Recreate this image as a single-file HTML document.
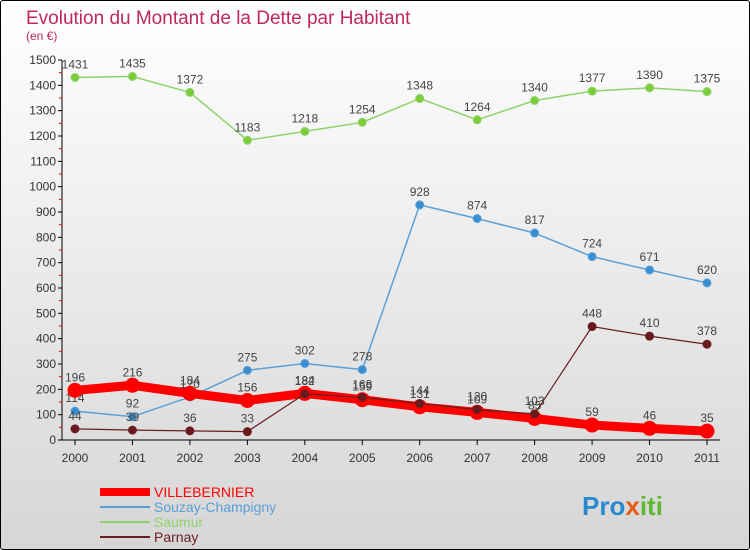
<!DOCTYPE html>
<html><head><meta charset="utf-8"><style>
body{margin:0;width:750px;height:550px;overflow:hidden;font-family:"Liberation Sans",sans-serif}
#c{position:absolute;left:0;top:0;width:748px;height:548px;border:1px solid #000;border-radius:3px;background:linear-gradient(#fff,#d6d6d6)}
</style></head><body>
<div id="c">
<svg id="s" width="750" height="550" style="position:absolute;left:-1px;top:-1px">
<text x="26" y="24" font-size="19" fill="#c0285a">Evolution du Montant de la Dette par Habitant</text>
<text x="26" y="40" font-size="12" fill="#c0285a">(en €)</text>
</svg>
</div>
<script>
const years=[2000,2001,2002,2003,2004,2005,2006,2007,2008,2009,2010,2011];
const villebernier=[196,216,184,156,184,159,131,109,85,59,46,35];
const souzay=[114,92,170,275,302,278,928,874,817,724,671,620];
const saumur=[1431,1435,1372,1183,1218,1254,1348,1264,1340,1377,1390,1375];
const parnay=[44,39,36,33,182,168,144,120,103,448,410,378];
const yTicks=[0,100,200,300,400,500,600,700,800,900,1000,1100,1200,1300,1400,1500];
const NS='http://www.w3.org/2000/svg',svg=document.getElementById('s');
const X=i=>75+i*(707-75)/11, Y=v=>440-v*380/1500;
function mk(t,a,p){const e=document.createElementNS(NS,t);for(const k in a)e.setAttribute(k,a[k]);(p||svg).appendChild(e);return e;}
let ax=mk('line',{x1:62,y1:60,x2:62,y2:440,stroke:'#000'});

let bx=mk('line',{x1:62,y1:440,x2:720,y2:440,stroke:'#000'});

yTicks.forEach(v=>{mk('line',{x1:58,x2:62,y1:Y(v),y2:Y(v),stroke:'#000'});
 if(v<1500)mk('line',{x1:59,x2:62,y1:Y(v+50),y2:Y(v+50),stroke:'#e00'});
 const t=mk('text',{x:56,y:Y(v)+4,'text-anchor':'end','font-size':12,fill:'#333'});t.textContent=v;
 });
years.forEach((y,i)=>{mk('line',{x1:X(i),x2:X(i),y1:440,y2:445,stroke:'#000'});
 const t=mk('text',{x:X(i),y:462,'text-anchor':'middle','font-size':12,fill:'#333'});t.textContent=y;
 });
function series(name,data,color,w,r,dot){
 const g=mk('g',{});
 mk('polyline',{points:data.map((v,i)=>X(i)+','+Y(v)).join(' '),fill:'none',stroke:color,'stroke-width':w,'stroke-linejoin':'round'},g);
 data.forEach((v,i)=>{const c=mk('circle',{cx:X(i),cy:Y(v),r:r,fill:dot,stroke:color,'stroke-width':1},g);
  
  const t=mk('text',{x:X(i),y:Y(v)-9,'text-anchor':'middle','font-size':12,fill:'#444'},g);t.textContent=v;
  });
}
series('saumur',saumur,'#8cd46a',1.5,4,'#7ccc3a');
series('souzay',souzay,'#5aa0d8',1.5,4,'#3a8ed0');
series('villebernier',villebernier,'#f00',9,7,'#f00');
series('parnay',parnay,'#6a1e22',1.2,4,'#6a1a1e');
const leg=[['VILLEBERNIER','#f00',8],['Souzay-Champigny','#5aa0d8',2],['Saumur','#8cd46a',2],['Parnay','#6a1e22',2]];
leg.forEach((l,i)=>{const g=mk('g',{});
 const y=492+i*15;mk('line',{x1:100,x2:150,y1:y,y2:y,stroke:l[1],'stroke-width':l[2]},g);
 const t=mk('text',{x:154,y:y+5,'font-size':14,fill:l[1]},g);t.textContent=l[0];});
const lg=mk('text',{x:582,y:515,'font-size':26,'font-weight':'bold',fill:'#2a8ad0'});

[['Pro','#2a8ad0'],['x','#e85a10'],['iti','#5cb830']].forEach(p=>{const s=mk('tspan',{fill:p[1]},lg);s.textContent=p[0];});
</script>
</body></html>
